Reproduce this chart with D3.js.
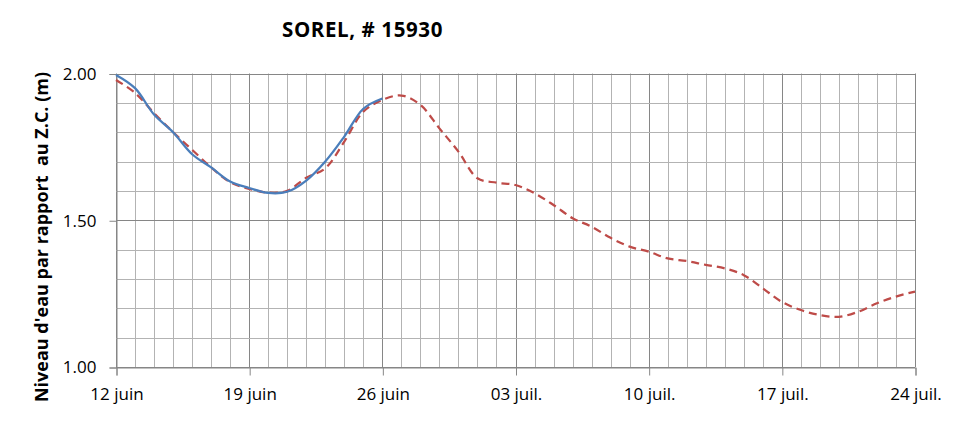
<!DOCTYPE html>
<html><head><meta charset="utf-8">
<script src="https://cdn.jsdelivr.net/npm/d3@7"></script>
<style>body{margin:0;background:#fff}svg{display:block}</style>
</head><body><svg id="c" width="971" height="421"></svg>
<script>
const title = "SOREL, # 15930";
const yTitle = "Niveau d'eau par rapport  au Z.C. (m)";
const startDate = "2017-06-12";
const tickLabels = ["12 juin","19 juin","26 juin","03 juil.","10 juil.","17 juil.","24 juil."];
const yTicks = [1.00, 1.50, 2.00];
// observed (blue), one value per day from 12 juin
const observed = [1.995,1.950,1.860,1.800,1.725,1.680,1.632,1.610,1.593,1.597,1.635,1.700,1.785,1.880,1.915];
// predicted (red dashed), one value per day from 12 juin
const predicted = [1.978,1.934,1.865,1.800,1.740,1.680,1.630,1.607,1.594,1.600,1.645,1.677,1.768,1.870,1.910,1.925,1.893,1.813,1.734,1.643,1.628,1.620,1.592,1.552,1.507,1.478,1.440,1.410,1.393,1.370,1.361,1.348,1.336,1.313,1.268,1.222,1.194,1.177,1.171,1.188,1.217,1.240,1.257];

const svg = d3.select("#c");
const m = {l:116, r:915, t:73.5, b:367};
const parse = d3.timeParse("%Y-%m-%d");
const d0 = parse(startDate);
const day = i => d3.timeDay.offset(d0, i);
const x = d3.scaleTime().domain([d0, day(42)]).range([m.l, m.r]);
const y = d3.scaleLinear().domain([1, 2]).range([m.b, m.t]);
const font = "Open Sans, sans-serif";

const g = svg.append("g");
const days = d3.range(0, 43);
g.selectAll("line.vg").data(days).join("line")
  .attr("x1", d => Math.round(x(day(d)))+0.5).attr("x2", d => Math.round(x(day(d)))+0.5)
  .attr("y1", m.t).attr("y2", m.b)
  .attr("stroke", d => d % 7 === 0 ? "#868686" : "#b3b3b3").attr("stroke-width", 1);
const hv = d3.range(0, 11).map(i => 1 + i/10);
g.selectAll("line.hg").data(hv).join("line")
  .attr("x1", m.l).attr("x2", m.r)
  .attr("y1", d => Math.round(y(d))+0.5).attr("y2", d => Math.round(y(d))+0.5)
  .attr("stroke", (d,i) => i % 5 === 0 ? "#868686" : "#b3b3b3").attr("stroke-width", 1);

const xAxis = d3.axisBottom(x)
  .tickValues(d3.range(0, 43, 7).map(day))
  .tickFormat((d,i) => tickLabels[i]).tickSize(8).tickPadding(12);
const xa = svg.append("g").attr("transform", `translate(0.5,${Math.round(m.b)+0.5})`).call(xAxis);
xa.select(".domain").attr("stroke", "#868686");
xa.selectAll(".tick line").attr("stroke", "#868686");
xa.selectAll("text").attr("font-family", font).attr("font-size", 17).attr("fill", "#000");

const yAxis = d3.axisLeft(y).tickValues(yTicks).tickFormat(d3.format(".2f")).tickSize(7).tickPadding(13);
const ya = svg.append("g").attr("transform", `translate(${m.l+0.5},0.5)`).call(yAxis);
ya.select(".domain").attr("stroke", "#868686");
ya.selectAll(".tick line").attr("stroke", "#868686");
ya.selectAll("text").attr("font-family", font).attr("font-size", 17).attr("fill", "#000");

const line = d3.line().x((d,i) => x(day(i))).y(d => y(d)).curve(d3.curveCatmullRom.alpha(0.5));
svg.append("path").datum(predicted).attr("d", line).attr("fill", "none")
  .attr("stroke", "#be4b48").attr("stroke-width", 2.25).attr("stroke-dasharray", "8,5");
svg.append("path").datum(observed).attr("d", line).attr("fill", "none")
  .attr("stroke", "#4a7ebb").attr("stroke-width", 2.25);

svg.append("text").attr("x", 362.5).attr("y", 37.3).attr("text-anchor", "middle")
  .attr("font-family", font).attr("font-weight", "bold").attr("font-size", 20.5)
  .attr("letter-spacing", 0.6)
  .text(title);
svg.append("text").attr("transform", "translate(48,237) rotate(-90)").attr("text-anchor", "middle")
  .attr("font-family", font).attr("font-weight", "bold").attr("font-size", 18)
  .style("white-space","pre")
  .text(yTitle);
</script></body></html>
